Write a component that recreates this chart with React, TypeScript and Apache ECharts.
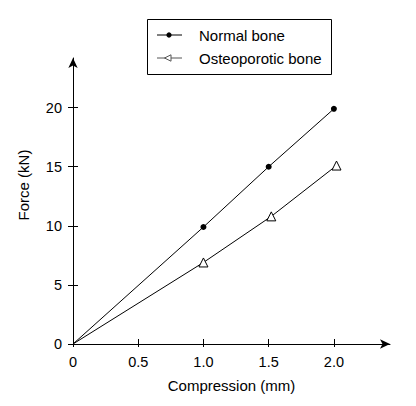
import React, { useEffect, useRef } from "react";
import * as echarts from "echarts";

const seriesNames = ["Normal bone", "Osteoporotic bone"];
const normalCompression = [0, 1.0, 1.5, 2.0];
const normalForce = [0, 9.9, 15.0, 19.9];
const osteoCompression = [0, 1.0, 1.52, 2.02];
const osteoForce = [0, 6.9, 10.8, 15.1];
const xTicks = [0, 0.5, 1.0, 1.5, 2.0];
const yTicks = [0, 5, 10, 15, 20];
const xName = "Compression (mm)";
const yName = "Force (kN)";

const FONT = "'Liberation Sans', Arial, sans-serif";

export default function App() {
  const ref = useRef<HTMLDivElement>(null);
  useEffect(() => {
    if (!ref.current) return;
    const chart = echarts.init(ref.current, undefined, { renderer: "svg" });
    const xMin = 0, xMax = 2.43, yMin = 0, yMax = 24.2;
    const mk = (xs: number[], ys: number[]) =>
      xs.map((x, i) => (i === 0 ? { value: [x, ys[i]], symbol: "none" } : { value: [x, ys[i]] }));
    const xFmt = (v: number) => (v === 0 ? "0" : v.toFixed(1));
    chart.setOption({
      animation: false,
      backgroundColor: "#fff",
      textStyle: { fontFamily: FONT, color: "#000" },
      grid: { left: 73, right: 26, top: 58, bottom: 62, containLabel: false },
      xAxis: [
        {
          type: "value", min: xMin, max: xMax, interval: 0.5, position: "bottom",
          axisLine: { show: true, lineStyle: { color: "#000", width: 1 }, symbol: ["none", "arrow"], symbolSize: [7, 10] },
          axisTick: { show: true, inside: true, length: 5, lineStyle: { color: "#000" }, customValues: xTicks },
          axisLabel: { color: "#000", fontSize: 14.5, fontFamily: FONT, margin: 10, customValues: xTicks, formatter: xFmt },
          splitLine: { show: false },
          name: xName, nameLocation: "middle", nameGap: 34,
          nameTextStyle: { color: "#000", fontSize: 15, fontFamily: FONT },
        },
        {
          type: "value", min: xMin, max: xMax, interval: 0.5, position: "bottom",
          axisLine: { show: false },
          axisTick: { show: true, inside: false, length: 3, lineStyle: { color: "#000" }, customValues: xTicks },
          axisLabel: { show: false },
          splitLine: { show: false },
        },
      ],
      yAxis: [
        {
          type: "value", min: yMin, max: yMax, interval: 5, position: "left",
          axisLine: { show: true, lineStyle: { color: "#000", width: 1 }, symbol: ["none", "arrow"], symbolSize: [7, 10] },
          axisTick: { show: true, inside: true, length: 5, lineStyle: { color: "#000" }, customValues: yTicks },
          axisLabel: { color: "#000", fontSize: 14.5, fontFamily: FONT, margin: 11, customValues: yTicks },
          splitLine: { show: false },
        },
        {
          type: "value", min: yMin, max: yMax, interval: 5, position: "left",
          axisLine: { show: false },
          axisTick: { show: true, inside: false, length: 5, lineStyle: { color: "#000" }, customValues: yTicks },
          axisLabel: { show: false },
          splitLine: { show: false },
        },
      ],
      series: [
        {
          name: seriesNames[0], type: "line", xAxisIndex: 0, yAxisIndex: 0,
          data: mk(normalCompression, normalForce),
          symbol: "circle", symbolSize: 6,
          lineStyle: { color: "#000", width: 1 },
          itemStyle: { color: "#000" },
        },
        {
          name: seriesNames[1], type: "line", xAxisIndex: 0, yAxisIndex: 0,
          data: mk(osteoCompression, osteoForce),
          symbol: "triangle", symbolSize: 9,
          lineStyle: { color: "#000", width: 1 },
          itemStyle: { color: "#fff", borderColor: "#000", borderWidth: 1 },
        },
      ],
      graphic: [
        {
          type: "text", x: 23, y: 185, rotation: Math.PI / 2,
          style: { text: yName, fill: "#000", font: `15px ${FONT}`, align: "center", verticalAlign: "middle" },
        },
        {
          type: "group",
          children: [
            { type: "rect", shape: { x: 147.5, y: 19.5, width: 184, height: 55 }, style: { fill: "#fff", stroke: "#000", lineWidth: 1 } },
            { type: "line", shape: { x1: 157, y1: 35, x2: 182, y2: 35 }, style: { stroke: "#000", lineWidth: 1 } },
            { type: "circle", shape: { cx: 169, cy: 35, r: 2.6 }, style: { fill: "#000" } },
            { type: "text", x: 199, y: 35, style: { text: seriesNames[0], fill: "#000", font: `15px ${FONT}`, verticalAlign: "middle" } },
            { type: "line", shape: { x1: 157, y1: 58, x2: 182, y2: 58 }, style: { stroke: "#555", lineWidth: 1 } },
            { type: "polygon", shape: { points: [[164.5, 58], [171, 54.8], [171, 61.2]] }, style: { fill: "#fff", stroke: "#555", lineWidth: 1 } },
            { type: "text", x: 199, y: 58, style: { text: seriesNames[1], fill: "#000", font: `15px ${FONT}`, verticalAlign: "middle" } },
          ],
        },
      ],
    });
    return () => chart.dispose();
  }, []);
  return <div ref={ref} style={{ position: "fixed", left: 0, top: 0, width: 416, height: 406 }} />;
}
